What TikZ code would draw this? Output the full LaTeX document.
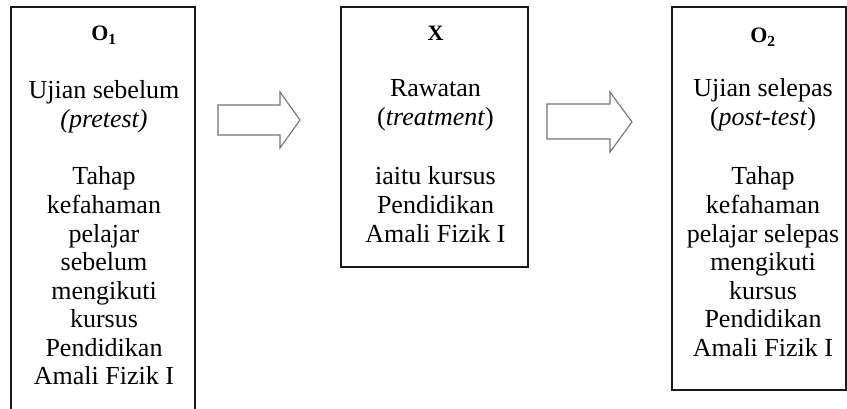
\documentclass[tikz,border=0pt]{standalone}
\usepackage{fontspec}
\setmainfont{Liberation Serif}
\begin{document}
\begin{tikzpicture}[x=1pt,y=-1pt,
  box/.style={draw=black!90, line width=1.4pt, inner sep=0pt, rectangle},
  txt/.style={anchor=base, inner sep=0pt, text=black, font=\fontsize{26}{28.6}\selectfont},
  head/.style={anchor=base, inner sep=0pt, text=black, font=\fontsize{22}{24}\selectfont\bfseries},
  blockarrow/.style={draw=black!55, line width=1.1pt, fill=white, line join=miter}]
\clip (0,0) rectangle (847,409);
\fill[white] (0,0) rectangle (847,409);
% boxes
\node[box, minimum width=184pt, minimum height=430pt] (b1) at (103,222) {};
\node[box, minimum width=187pt, minimum height=260pt] (b2) at (434.5,137) {};
\node[box, minimum width=174pt, minimum height=383pt] (b3) at (759,198.5) {};
% box 1 text
\node[head] (h1) at (104,41) {O\textsubscript{1}};
\node[txt] (t1a) at (104,99) {Ujian sebelum};
\node[txt] (t1b) at (104,127.6) {\itshape (pretest)};
\foreach \t [count=\i from 0] in {Tahap,kefahaman,pelajar,sebelum,mengikuti,kursus,Pendidikan,Amali Fizik I}
  \node[txt] (t1c\i) at (104,185+28.57*\i) {\t};
% box 2 text
\node[head] (h2) at (435.5,41) {X};
\node[txt] (t2a) at (435.5,97) {Rawatan};
\node[txt] (t2b) at (435.5,125.6) {(\textit{treatment})};
\foreach \t [count=\i from 0] in {iaitu kursus,Pendidikan,Amali Fizik I}
  \node[txt] (t2c\i) at (435.5,185+28.57*\i) {\t};
% box 3 text
\node[head] (h3) at (763,43) {O\textsubscript{2}};
\node[txt] (t3a) at (763,97) {Ujian selepas};
\node[txt] (t3b) at (763,125.6) {(\textit{post-test})};
\foreach \t [count=\i from 0] in {Tahap,kefahaman,pelajar selepas,mengikuti,kursus,Pendidikan,Amali Fizik I}
  \node[txt] (t3c\i) at (763,185+28.57*\i) {\t};
% block arrows
\coordinate (a1s) at (218,120);
\coordinate (a1e) at (300,120);
\draw[blockarrow] (a1s) ++(0,-15) -- ++(62,0) -- ++(0,-13) -- (a1e) -- ++(-20,28) -- ++(0,-13) -- ++(-62,0) -- cycle;
\coordinate (a2s) at (547,121);
\coordinate (a2e) at (632,122);
\draw[blockarrow] (a2s) ++(0,-17) -- ++(63,0) -- ++(0,-12) -- (a2e) -- ++(-22,30) -- ++(0,-13) -- ++(-63,0) -- cycle;
\end{tikzpicture}
\end{document}
